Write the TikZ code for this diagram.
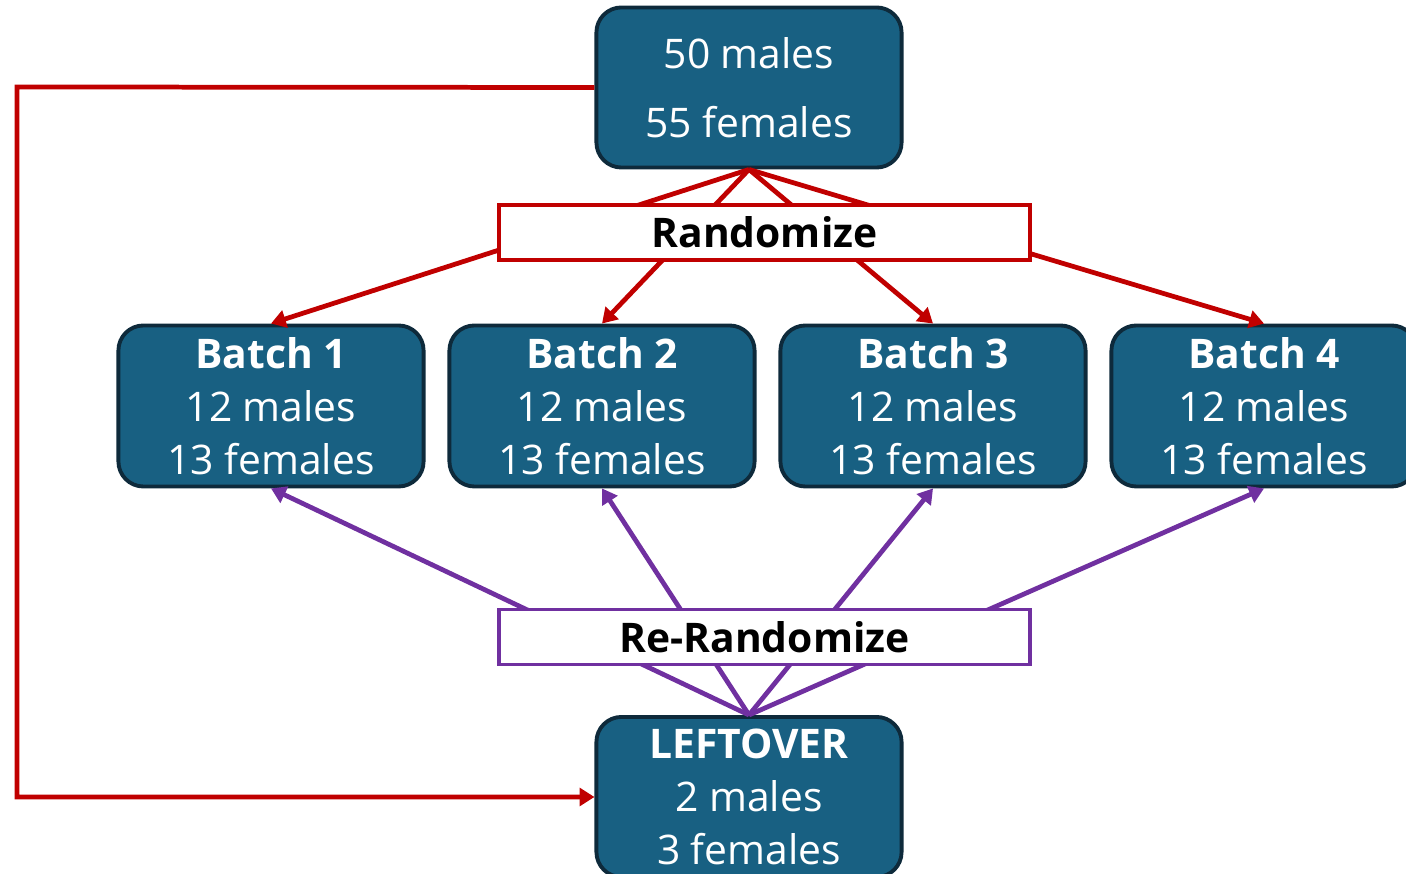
\documentclass[tikz,border=0pt]{standalone}
\usepackage{fontspec}
\setmainfont{Open Sans}
\usetikzlibrary{arrows.meta}
\definecolor{boxblue}{RGB}{24,96,130}
\definecolor{boxline}{RGB}{14,42,59}
\definecolor{randred}{RGB}{192,0,0}
\definecolor{rerandpurple}{RGB}{112,48,160}
\def\n{4}

\begin{document}
\begin{tikzpicture}[
		x=0.01cm,y=-0.01cm,
		group/.style={draw=boxline,line width=1.1pt,fill=boxblue,rounded corners=0.25cm,minimum width=3.05cm,minimum height=1.6cm,text=white,align=center,font=\fontsize{11.6}{15.1}\selectfont},
		shufflebox/.style={draw,line width=1pt,fill=white,minimum width=5.31cm,minimum height=0.53cm,font=\fontsize{11.6}{14}\selectfont\bfseries},
		tip/.style={-{Triangle[length=4.2pt,width=5pt]},line width=1.35pt}
		]
		\useasboundingbox (0,0) rectangle (1406,874);
		
		\node[group] (pool) at (749,87.5) {50 males\\[4.5pt]55 females};
		\node[group] (left) at (749,797) {\textbf{LEFTOVER}\\2 males\\3 females};
		\foreach \i in {1,...,\n} {
			\node[group] (b\i) at ({271+331*(\i-1)},406) {\textbf{Batch \i}\\12 males\\13 females};
			\draw[tip,randred] (pool.south) -- (b\i.north);
			\draw[tip,rerandpurple] (left.north) -- (b\i.south);
		}
		\node[shufflebox,draw=randred] (rand) at (764.5,232.5) {Randomize};
		\node[shufflebox,draw=rerandpurple] (rerand) at (764.5,637) {Re-Randomize};
		
		\coordinate (up) at (17,87);
		\draw[tip,randred] (pool.west) -- (up) |- (left.west);
	\end{tikzpicture}
\end{document}
